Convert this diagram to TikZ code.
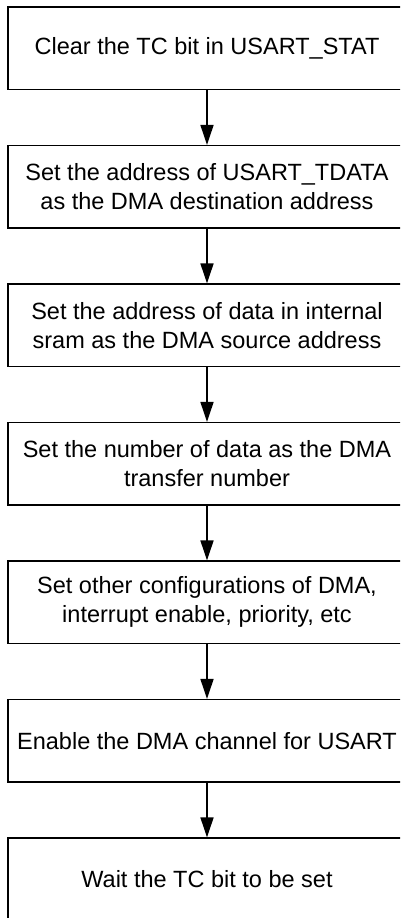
\documentclass[tikz,border=0pt]{standalone}
\usepackage{fontspec}
\setmainfont{Liberation Sans}
\usetikzlibrary{arrows.meta}
\tikzset{
  stepbox/.style={draw=black, line width=1.2pt, minimum width=398pt, minimum height=82.5pt,
    inner sep=0pt, align=center, font=\fontsize{23.5}{29}\selectfont},
  flow/.style={line width=1.6pt, -{Triangle[length=20pt,width=13pt]}}
}
\begin{document}
\begin{tikzpicture}[x=1pt,y=1pt]
\useasboundingbox (0,0) rectangle (400,-918);
\clip (0,0) rectangle (400,-918);
\node[stepbox] (b1) at (207,-48.25) {Clear the TC bit in USART\_STAT};
\node[stepbox] (b2) at (207,-186.75) {Set the address of USART\_TDATA\\as the DMA destination address};
\node[stepbox] (b3) at (207,-325.25) {Set the address of data in internal\\sram as the DMA source address};
\node[stepbox] (b4) at (207,-463.75) {Set the number of data as the DMA\\transfer number};
\node[stepbox] (b5) at (207,-602.25) {Set other configurations of DMA,\\interrupt enable, priority, etc};
\node[stepbox] (b6) at (207,-740.75) {Enable the DMA channel for USART};
\node[stepbox] (b7) at (207,-879.25) {Wait the TC bit to be set};
\draw[flow] (b1.south) -- (b2.north);
\draw[flow] (b2.south) -- (b3.north);
\draw[flow] (b3.south) -- (b4.north);
\draw[flow] (b4.south) -- (b5.north);
\draw[flow] (b5.south) -- (b6.north);
\draw[flow] (b6.south) -- (b7.north);
\end{tikzpicture}
\end{document}
